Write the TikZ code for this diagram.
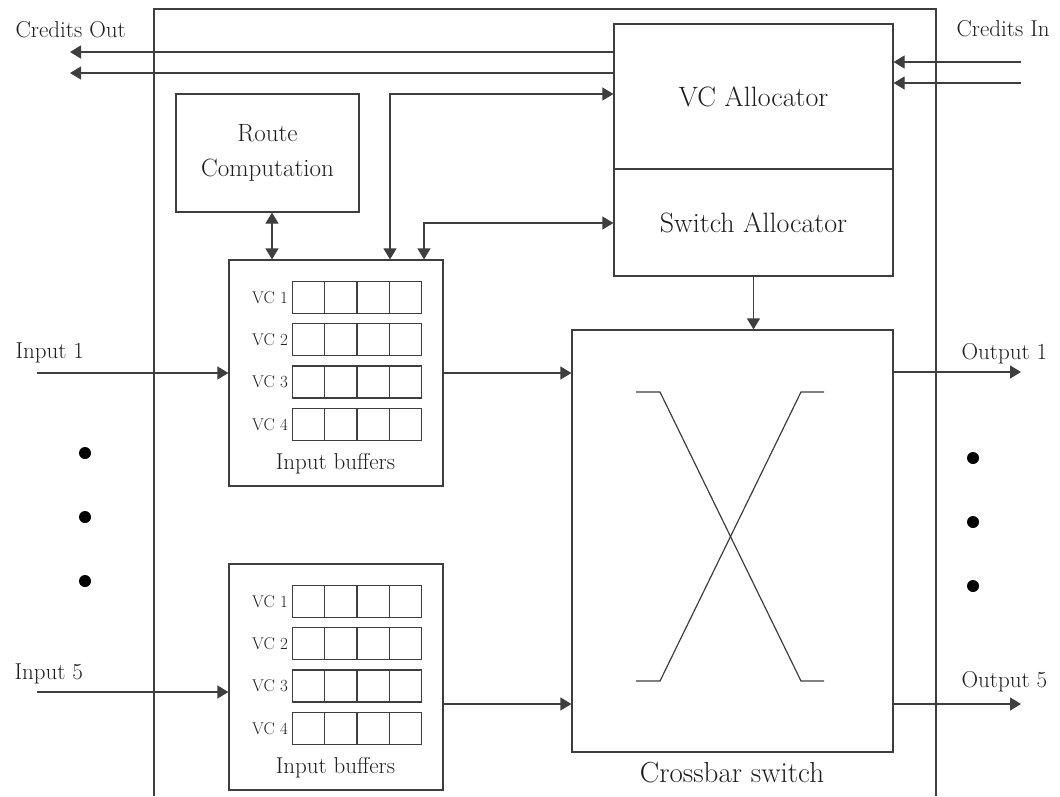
\documentclass[tikz,border=0pt]{standalone}
\usepackage{fontspec}
\usetikzlibrary{arrows.meta}
\definecolor{linegray}{RGB}{62,62,62}
\definecolor{textgray}{RGB}{30,30,30}
\tikzstyle{every path}=[line width=1.2pt]
\tikzstyle{block}=[draw, rectangle, inner sep=0pt, font=\fontsize{28}{32}\selectfont]
\tikzstyle{flow}=[-{Triangle[length=11pt,width=13pt]}]
\tikzstyle{dflow}=[{Triangle[length=11pt,width=13pt]}-{Triangle[length=11pt,width=13pt]}]
\tikzstyle{portlabel}=[inner sep=0pt, anchor=base west, font=\fontsize{23}{26}\selectfont]
\tikzstyle{vclabel}=[inner sep=0pt, anchor=east, font=\fontsize{17}{20}\selectfont]
\tikzstyle{buflabel}=[inner sep=0pt, anchor=base, font=\fontsize{23}{26}\selectfont]

\begin{document}
\begin{tikzpicture}[x=1pt, y=-1pt, color=linegray, text=textgray]
            \useasboundingbox (0,0) rectangle (1060,796);

            % router boundary
            \draw (154,796) -- (154,9) -- (936,9) -- (936,796);

            % blocks
            \node[block, minimum width=279pt, minimum height=145pt] (vcalloc) at (753.5,96.5) {VC Allocator};
            \node[block, minimum width=279pt, minimum height=107pt] (swalloc) at (753.5,222.5) {Switch Allocator};
            \node[block, minimum width=183pt, minimum height=118pt, align=center,
                font=\fontsize{25}{35}\selectfont] (route) at (267.5,153) {Route\\Computation};
            \node[block, minimum width=214pt, minimum height=226pt] (buf1) at (336,373) {};
            \node[block, minimum width=214pt, minimum height=226pt] (buf2) at (336,677) {};
            \node[block, minimum width=321pt, minimum height=422pt] (xbar) at (732.5,541) {};
            \node[buflabel, font=\fontsize{29}{32}\selectfont] (xbarlbl) at (732,782) {Crossbar switch};

            % buffer rows
            \foreach \b in {buf1,buf2}{
                \begin{scope}[shift={(\b.north west)}]
                    \foreach \r in {1,...,4}{
                        \pgfmathsetmacro\rowtop{22+42.3*(\r-1)}
                        \draw (64,\rowtop) rectangle ++(129,32);
                        \foreach \c in {1,2,3}
                            \draw ({64+32.25*\c},\rowtop) -- ++(0,32);
                        \node[vclabel] (\b-vc\r) at (60,\rowtop+16) {VC \r};
                    }
                    \node[buflabel] (\b-lbl) at (107,210) {Input buffers};
                \end{scope}
            }

            % crossbar symbol
            \draw (636,392) -- (660,392) -- (801,681) -- (824,681);
            \draw (636,681) -- (660,681) -- (801,392) -- (824,392);

            % credits
            \coordinate (co1) at (70,52);
            \coordinate (co2) at (70,73);
            \coordinate (ci1) at (1021,62);
            \coordinate (ci2) at (1021,83);
            \draw[flow] (co1 -| vcalloc.west) -- (co1);
            \draw[flow] (co2 -| vcalloc.west) -- (co2);
            \draw[flow] (ci1) -- (ci1 -| vcalloc.east);
            \draw[flow] (ci2) -- (ci2 -| vcalloc.east);
            \node[portlabel] (colbl) at (15,37) {Credits Out};
            \node[portlabel] (cilbl) at (956,36) {Credits In};

            % control paths
            \draw[dflow] ([xshift=4.5pt]route.south) -- ([xshift=4.5pt]route.south |- buf1.north);
            \coordinate (bend1) at (390,94);
            \coordinate (bend2) at (424,223);
            \draw[dflow] (buf1.north -| bend1) -- (bend1) -- (bend1 -| vcalloc.west);
            \draw[dflow] (buf1.north -| bend2) -- (bend2) -- (bend2 -| swalloc.west);
            \draw[flow] (swalloc.south) -- (swalloc.south |- xbar.north);

            % data paths
            \coordinate (in1) at (37,373);
            \coordinate (in5) at (37,692);
            \coordinate (out1) at (1021,372);
            \coordinate (out5) at (1021,704);
            \draw[flow] (in1) -- (in1 -| buf1.west);
            \draw[flow] (in5) -- (in5 -| buf2.west);
            \draw[flow] (buf1.east) -- (buf1.east -| xbar.west);
            \draw[flow] ([yshift=-27pt]buf2.east) -- ([yshift=-27pt]buf2.east -| xbar.west);
            \draw[flow] (out1 -| xbar.east) -- (out1);
            \draw[flow] (out5 -| xbar.east) -- (out5);
            \node[portlabel] (in1lbl) at (15,358) {Input 1};
            \node[portlabel] (in5lbl) at (14,679) {Input 5};
            \node[portlabel] (out1lbl) at (961,359) {Output 1};
            \node[portlabel] (out5lbl) at (961,687) {Output 5};

            % port dots
            \foreach \y in {453,517,581}
                \fill[black] (85,\y) circle (6pt);
            \foreach \y in {458,522,586}
                \fill[black] (973,\y) circle (6pt);
        \end{tikzpicture}
\end{document}
